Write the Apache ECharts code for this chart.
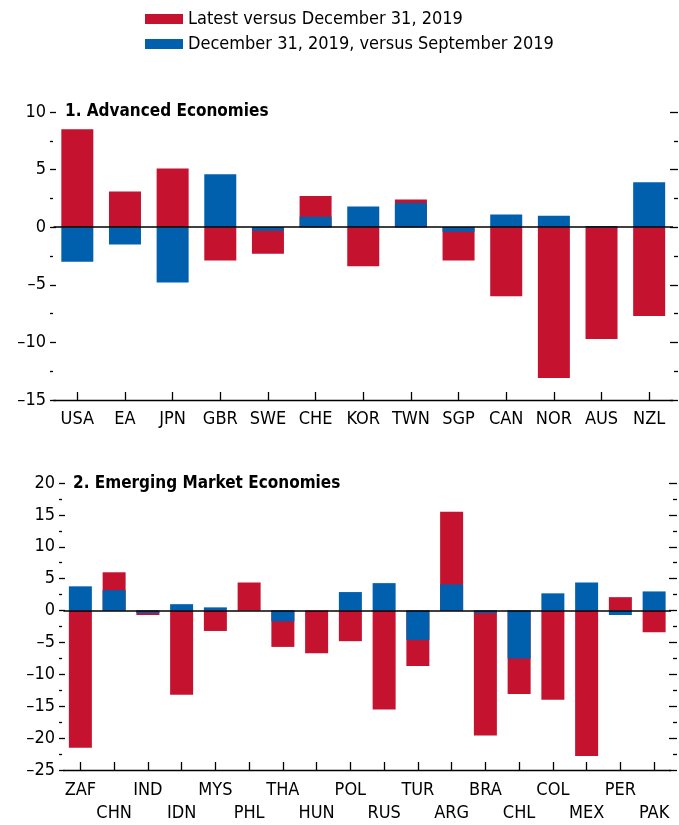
<!DOCTYPE html>
<html>
<head>
<meta charset="utf-8">
<script src="https://cdn.jsdelivr.net/npm/echarts@6/dist/echarts.min.js"></script>
<style>
  html, body { margin: 0; padding: 0; background: #fff; }
  #chart { width: 679px; height: 825px; }
</style>
</head>
<body>
<div id="chart"></div>
<script>
// panel 1: advanced economies
const advCountries = ["USA", "EA", "JPN", "GBR", "SWE", "CHE", "KOR", "TWN", "SGP", "CAN", "NOR", "AUS", "NZL"];
const advLatest = [8.5, 3.1, 5.1, -2.9, -2.3, 2.7, -3.4, 2.4, -2.9, -6.0, -13.1, -9.7, -7.7];
const advDec = [-3.0, -1.5, -4.8, 4.6, -0.3, 0.9, 1.8, 2.1, -0.4, 1.1, 1.0, 0.1, 3.9];

// panel 2: emerging market economies
const emCountries = ["ZAF", "CHN", "IND", "IDN", "MYS", "PHL", "THA", "HUN", "POL", "RUS", "TUR", "ARG", "BRA", "CHL", "COL", "MEX", "PER", "PAK"];
const emLatest = [-21.5, 6.0, -0.7, -13.2, -3.2, 4.4, -5.7, -6.7, -4.8, -15.5, -8.7, 15.5, -19.6, -13.1, -14.0, -22.8, 2.1, -3.4];
const emDec = [3.8, 3.2, -0.4, 1.0, 0.5, 0, -1.7, 0, 2.9, 4.3, -4.6, 4.1, -0.4, -7.5, 2.7, 4.4, -0.7, 3.0];

const nameLatest = "Latest versus December 31, 2019";
const nameDec = "December 31, 2019, versus September 2019";

const RED = "#C4122F";
const BLUE = "#0060AE";
const FONT = "'DejaVu Sans Condensed', 'Liberation Sans Narrow', 'Roboto', sans-serif";

let chart = echarts.init(document.getElementById("chart"));

function dash(v) {
  return String(v).replace("-", "\u2013");
}

function leftAxis(grid, min, max, offset) {
  return {
    type: "value", gridIndex: grid, min: min, max: max, interval: 5,
    position: "left", offset: offset,
    axisLine: { show: false },
    axisTick: { show: true, inside: true, length: 6, lineStyle: { color: "#000", width: 1.3 } },
    minorTick: { show: true, splitNumber: 2, length: 3, lineStyle: { color: "#000", width: 1.3 } },
    splitLine: { show: false },
    axisLabel: { margin: 4, color: "#000", fontSize: 18, fontFamily: FONT, formatter: dash }
  };
}

function rightAxis(grid, min, max, offset) {
  return {
    type: "value", gridIndex: grid, min: min, max: max, interval: 5,
    position: "right", offset: offset,
    axisLine: { show: false },
    axisTick: { show: true, inside: true, length: 8, lineStyle: { color: "#000", width: 1.3 } },
    minorTick: { show: true, splitNumber: 2, length: 4, lineStyle: { color: "#000", width: 1.3 } },
    splitLine: { show: false },
    axisLabel: { show: false }
  };
}

function catAxis(grid, data, margin, formatter) {
  return {
    type: "category", gridIndex: grid, data: data, position: "bottom",
    axisLine: { show: true, onZero: false, lineStyle: { color: "#000", width: 1.3 } },
    axisTick: { show: true, inside: true, length: 8, alignWithLabel: true, lineStyle: { color: "#000", width: 1.3 } },
    axisLabel: { margin: margin, color: "#000", fontSize: 18, fontFamily: FONT, lineHeight: 23, interval: 0, formatter: formatter }
  };
}

const zeroLine = {
  silent: true, symbol: "none", label: { show: false },
  lineStyle: { color: "#000", width: 1.5, type: "solid" },
  data: [{ yAxis: 0 }]
};

let option = {
  animation: false,
  textStyle: { fontFamily: FONT },
  legend: {
    orient: "vertical", left: 145, top: 10, padding: 0,
    itemWidth: 38, itemHeight: 10, itemGap: 7,
    icon: "rect",
    textStyle: { fontSize: 18, color: "#000", fontFamily: FONT, lineHeight: 18 },
    data: [nameLatest, nameDec]
  },
  title: [
    { text: "1. Advanced Economies", left: 65, top: 103, padding: 0,
      textStyle: { fontSize: 17, fontWeight: "bold", color: "#000", fontFamily: FONT } },
    { text: "2. Emerging Market Economies", left: 73, top: 475, padding: 0,
      textStyle: { fontSize: 17, fontWeight: "bold", color: "#000", fontFamily: FONT } }
  ],
  grid: [
    { left: 53.5, right: 6, top: 112, bottom: 425 },
    { left: 63.5, right: 8, top: 483, bottom: 54 }
  ],
  xAxis: [
    catAxis(0, advCountries, 8),
    catAxis(1, emCountries, 9, function (v, i) { return i % 2 ? "\n" + v : v; })
  ],
  yAxis: [
    leftAxis(0, -15, 10, 3.5),
    rightAxis(0, -15, 10, 5),
    leftAxis(1, -25, 20, 4.5),
    rightAxis(1, -25, 20, 6)
  ],
  series: [
    { name: nameLatest, type: "bar", xAxisIndex: 0, yAxisIndex: 0, data: advLatest,
      barWidth: 32, barGap: "-100%", itemStyle: { color: RED }, markLine: zeroLine },
    { name: nameDec, type: "bar", xAxisIndex: 0, yAxisIndex: 0, data: advDec,
      barWidth: 32, barGap: "-100%", itemStyle: { color: BLUE } },
    { name: nameLatest, type: "bar", xAxisIndex: 1, yAxisIndex: 2, data: emLatest,
      barWidth: 23, barGap: "-100%", itemStyle: { color: RED }, markLine: zeroLine },
    { name: nameDec, type: "bar", xAxisIndex: 1, yAxisIndex: 2, data: emDec,
      barWidth: 23, barGap: "-100%", itemStyle: { color: BLUE } }
  ]
};
chart.setOption(option);
</script>
</body>
</html>
